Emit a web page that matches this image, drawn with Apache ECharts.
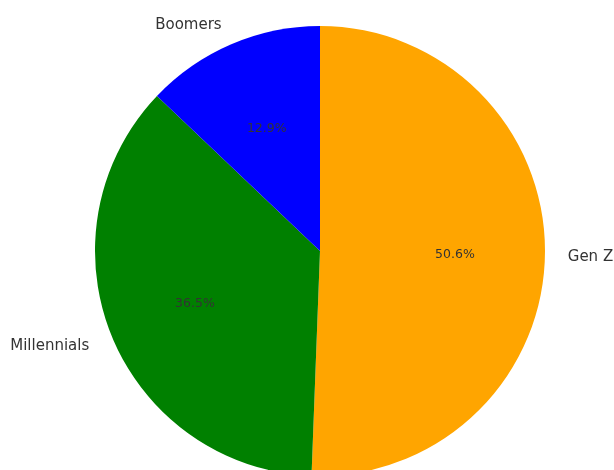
<!DOCTYPE html>
<html>
<head>
<meta charset="utf-8">
<script src="https://cdn.jsdelivr.net/npm/echarts@6/dist/echarts.min.js"></script>
<style>
  html, body { margin: 0; padding: 0; background: #fff; }
  #chart { width: 614px; height: 470px; }
</style>
</head>
<body>
<div id="chart"></div>
<script>
  // 数据
  var categories = ['Gen Z', 'Millennials', 'Boomers'];
  var values = [50.6, 36.5, 12.9];
  var colors = ['#ffa500', '#008000', '#0000ff'];

  // 标签偏移（左对齐 / 右对齐）
  var labelPad = [[0, 0, 0, 46], [0, 82, 0, 0], [0, 68, 0, 0]];

  var center = [320, 251];
  var labelCenter = [320, 252.5];
  var R = 225;

  var pieData = categories.map(function (name, i) {
    return { name: name, value: values[i], itemStyle: { color: colors[i] } };
  });

  var pctData = categories.map(function (name, i) {
    return { name: name, value: values[i] };
  });

  var nameData = categories.map(function (name, i) {
    return { name: name, value: values[i], label: { padding: labelPad[i] } };
  });

  var option = {
    animation: false,
    backgroundColor: '#fff',
    series: [
      {
        type: 'pie',
        center: center,
        radius: [0, R],
        startAngle: 90,
        clockwise: true,
        silent: true,
        itemStyle: { borderWidth: 0 },
        label: { show: false },
        labelLine: { show: false },
        data: pieData
      },
      {
        // 百分比标签 (0.6R, echarts 会外移 3px)
        type: 'pie',
        center: labelCenter,
        radius: [0, R * 1.2 - 6],
        startAngle: 90,
        silent: true,
        itemStyle: { color: 'rgba(0,0,0,0)', borderWidth: 0 },
        label: {
          show: true,
          position: 'inside',
          formatter: function (p) { return p.value.toFixed(1) + '%'; },
          fontFamily: 'DejaVu Sans',
          fontSize: 12.5,
          color: '#333'
        },
        labelLine: { show: false },
        data: pctData
      },
      {
        // 名称标签 (1.1R)
        type: 'pie',
        center: labelCenter,
        radius: [R * 1.1 - 11, R * 1.1 + 5],
        startAngle: 90,
        silent: true,
        itemStyle: { color: 'rgba(0,0,0,0)', borderWidth: 0 },
        label: {
          show: true,
          position: 'inside',
          formatter: '{b}',
          fontFamily: 'DejaVu Sans',
          fontSize: 15,
          color: '#333'
        },
        labelLine: { show: false },
        data: nameData
      }
    ]
  };

  var myChart = echarts.init(document.getElementById('chart'));
  myChart.setOption(option);
</script>
</body>
</html>
